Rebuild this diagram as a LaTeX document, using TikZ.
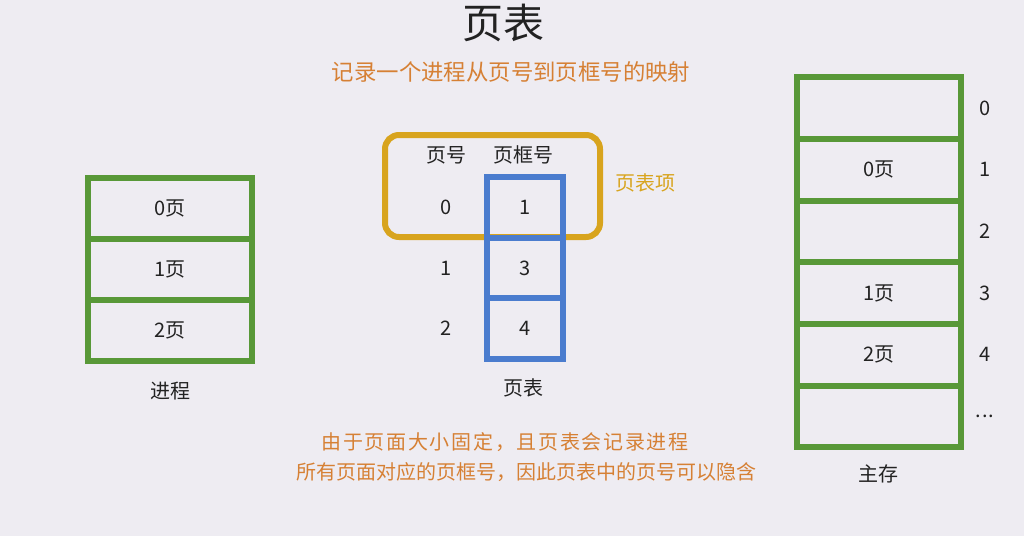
\documentclass[tikz,border=0pt]{standalone}
\usepackage{fontspec}
\setmainfont{Noto Sans CJK SC}
\usetikzlibrary{positioning}
\definecolor{bgcol}{RGB}{238,236,242}
\definecolor{grn}{RGB}{88,152,56}
\definecolor{blu}{RGB}{74,124,206}
\definecolor{ylw}{RGB}{216,164,30}
\definecolor{org}{RGB}{214,128,52}
\definecolor{txt}{RGB}{34,34,34}
\begin{document}
\begin{tikzpicture}[x=1pt, y=-1pt,
    pagecell/.style={draw=grn, line width=6pt, minimum width=164pt, minimum height=61pt, outer sep=0pt, inner sep=0pt, font=\fontsize{20}{20}\selectfont, text=txt},
    framecell/.style={draw=blu, line width=6pt, minimum width=76pt, minimum height=60.5pt, outer sep=0pt, inner sep=0pt, font=\fontsize{20}{20}\selectfont, text=txt},
    lbl/.style={inner sep=0pt, font=\fontsize{20}{20}\selectfont, text=txt},
    note/.style={inner sep=0pt, font=\fontsize{20}{20}\selectfont, text=org}]
    \useasboundingbox[fill=bgcol] (0,0) rectangle (1024,536);

    % Title
    \node[inner sep=0pt, font=\fontsize{41}{41}\selectfont, text=txt] (title) at (503,23) {页表};
    \node[note, font=\fontsize{22.4}{22.4}\selectfont] (sub) at (511,72) {记录一个进程从页号到页框号的映射};

    % Process pages
    \node[pagecell] (p0) at (170,208) {0页};
    \node[pagecell, below=0pt of p0] (p1) {1页};
    \node[pagecell, below=0pt of p1] (p2) {2页};
    \node[lbl] (proc) at (170,391) {进程};

    % Page table entry
    \node[draw=ylw, line width=6pt, rounded corners=14pt, minimum width=215pt, minimum height=102pt, outer sep=0pt] (entry) at (492.5,186) {};
    \node[lbl, text=ylw] (entrylbl) at (645,183) {页表项};

    % Page table
    \node[framecell] (f0) at (525,207.5) {1};
    \node[framecell, below=0pt of f0] (f1) {3};
    \node[framecell, below=0pt of f1] (f2) {4};
    \node[lbl] (hpage) at (446,155) {页号};
    \node[lbl] (hframe) at (523,155) {页框号};
    \node[lbl] (n0) at (f0 -| hpage) {0};
    \node[lbl] (n1) at (f1 -| hpage) {1};
    \node[lbl] (n2) at (f2 -| hpage) {2};
    \node[lbl] (ptab) at (523,388) {页表};

    % Main memory frames
    \node[pagecell, minimum height=61.7pt] (m0) at (879,108) {};
    \node[pagecell, minimum height=61.7pt, below=0pt of m0] (m1) {0页};
    \node[pagecell, minimum height=61.7pt, below=0pt of m1] (m2) {};
    \node[pagecell, minimum height=61.7pt, below=0pt of m2] (m3) {1页};
    \node[pagecell, minimum height=61.7pt, below=0pt of m3] (m4) {2页};
    \node[pagecell, minimum height=61.7pt, below=0pt of m4] (m5) {};
    \foreach \i/\t in {0/0,1/1,2/2,3/3,4/4,5/{.\kern1pt.\kern1pt.}}
        \node[lbl] (k\i) at ([xshift=24pt]m\i.east) {\t};
    \node[lbl] (mem) at (878,474) {主存};

    % Note
    \node[note, font=\fontsize{20}{20}\selectfont\addfontfeature{LetterSpace=8.5}] (note1) at (505,442) {由于页面大小固定，且页表会记录进程};
    \node[note] (note2) at (526,472) {所有页面对应的页框号，因此页表中的页号可以隐含};
\end{tikzpicture}
\end{document}
